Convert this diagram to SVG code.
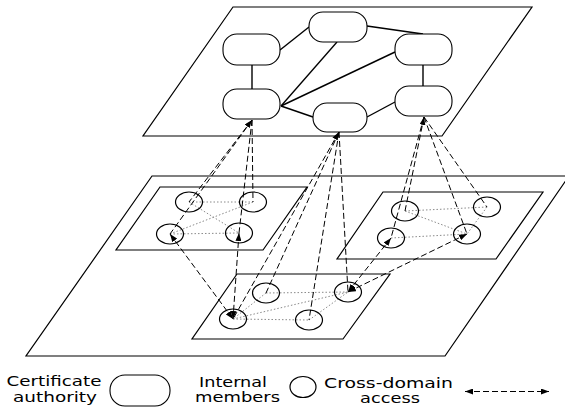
<svg xmlns="http://www.w3.org/2000/svg" width="565" height="407" viewBox="0 0 565 407">
<defs>
<marker id="ah" viewBox="0 0 8 6" refX="8" refY="3" markerWidth="8" markerHeight="6" markerUnits="userSpaceOnUse" orient="auto-start-reverse">
<path d="M0,0 L8,3 L0,6 z" fill="#000"/>
</marker>
</defs>
<style>
.plane{fill:none;stroke:#000;stroke-width:1.2}
.ca{fill:#fff;stroke:#000;stroke-width:1.1}
.mem{fill:none;stroke:#000;stroke-width:1.2}
.edge{stroke:#000;stroke-width:1.4;fill:none}
.dot{stroke:#8a8a8a;stroke-width:1;stroke-dasharray:1.5,2;fill:none}
.dash{stroke:#000;stroke-width:1;stroke-dasharray:6,3;fill:none}
.xd{stroke:#000;stroke-width:1;stroke-dasharray:6,3;fill:none;marker-start:url(#ah);marker-end:url(#ah)}
.up{marker-start:url(#ah)}
text{font-family:"DejaVu Sans","Liberation Sans",sans-serif;font-size:13.5px;fill:#000}
</style>

<g id="planes">
<polygon class="plane" points="233,7 532,7 442,136 143,136"/>
<polygon class="plane" points="152,176 569,176 445,356 26,356"/>
<polygon class="plane" points="160,187 307,187 263,250 116,250"/>
<polygon class="plane" points="237,274 390,274 343,339 192,339"/>
<polygon class="plane" points="383,192 543,192 496,259 337,259"/>
</g>

<g id="ca-edges">
<line class="edge" x1="280" y1="50" x2="309" y2="27"/>
<line class="edge" x1="367" y1="26" x2="423" y2="34"/>
<line class="edge" x1="252" y1="65" x2="252" y2="89"/>
<line class="edge" x1="423" y1="65" x2="423" y2="86"/>
<line class="edge" x1="281" y1="106" x2="337" y2="42"/>
<line class="edge" x1="281" y1="106" x2="395" y2="52"/>
<line class="edge" x1="281" y1="106" x2="313" y2="117"/>
<line class="edge" x1="367" y1="117" x2="395" y2="102"/>
</g>

<g id="ca-nodes">
<rect id="ca-tl" class="ca" x="223" y="34" width="57" height="31" rx="14" ry="14"/>
<rect id="ca-tc" class="ca" x="309" y="12" width="58" height="30" rx="14" ry="14"/>
<rect id="ca-tr" class="ca" x="395" y="34" width="57" height="31" rx="14" ry="14"/>
<rect id="ca-ml" class="ca" x="223" y="89" width="57" height="30" rx="14" ry="14"/>
<rect id="ca-mc" class="ca" x="313" y="103" width="54" height="29" rx="14" ry="14"/>
<rect id="ca-mr" class="ca" x="395" y="86" width="57" height="30" rx="14" ry="14"/>
</g>

<g id="internal-links">
<line class="dot" x1="189" y1="202" x2="253" y2="202"/>
<line class="dot" x1="170" y1="234" x2="239" y2="233"/>
<line class="dot" x1="189" y1="202" x2="239" y2="233"/>
<line class="dot" x1="253" y1="202" x2="170" y2="234"/>
<line class="dot" x1="266" y1="293" x2="348" y2="292"/>
<line class="dot" x1="233" y1="319" x2="309" y2="320"/>
<line class="dot" x1="266" y1="293" x2="233" y2="319"/>
<line class="dot" x1="309" y1="320" x2="348" y2="292"/>
<line class="dot" x1="233" y1="319" x2="348" y2="292"/>
<line class="dot" x1="405" y1="211" x2="487" y2="207"/>
<line class="dot" x1="391" y1="238" x2="467" y2="234"/>
<line class="dot" x1="405" y1="211" x2="467" y2="234"/>
<line class="dot" x1="487" y1="207" x2="467" y2="234"/>
</g>

<g id="members">
<ellipse id="m-l1" class="mem" cx="189" cy="202" rx="13.5" ry="10"/>
<ellipse id="m-l2" class="mem" cx="253" cy="202" rx="13.5" ry="10"/>
<ellipse id="m-l3" class="mem" cx="170" cy="234" rx="13.5" ry="10"/>
<ellipse id="m-l4" class="mem" cx="239" cy="233" rx="13.5" ry="10"/>
<ellipse id="m-b1" class="mem" cx="266" cy="293" rx="13.5" ry="10"/>
<ellipse id="m-b2" class="mem" cx="233" cy="319" rx="13.5" ry="10"/>
<ellipse id="m-b3" class="mem" cx="309" cy="320" rx="13.5" ry="10"/>
<ellipse id="m-b4" class="mem" cx="348" cy="292" rx="13.5" ry="10"/>
<ellipse id="m-r1" class="mem" cx="405" cy="211" rx="13.5" ry="10"/>
<ellipse id="m-r2" class="mem" cx="487" cy="207" rx="13.5" ry="10"/>
<ellipse id="m-r3" class="mem" cx="391" cy="238" rx="13.5" ry="10"/>
<ellipse id="m-r4" class="mem" cx="467" cy="234" rx="13.5" ry="10"/>
</g>

<g id="connectors">
<line class="dash up" x1="252" y1="120" x2="189" y2="202"/>
<line class="dash" x1="252" y1="120" x2="170" y2="234"/>
<line class="dash" x1="252" y1="120" x2="253" y2="202"/>
<line class="dash" x1="252" y1="120" x2="239" y2="233"/>
<line class="dash" x1="339" y1="132" x2="266" y2="293"/>
<line class="dash up" x1="339" y1="132" x2="233" y2="319"/>
<line class="dash" x1="339" y1="132" x2="309" y2="320"/>
<line class="dash" x1="339" y1="132" x2="348" y2="292"/>
<line class="dash up" x1="424" y1="117" x2="405" y2="211"/>
<line class="dash" x1="424" y1="117" x2="391" y2="238"/>
<line class="dash" x1="424" y1="117" x2="487" y2="207"/>
<line class="dash" x1="424" y1="117" x2="467" y2="234"/>
<line class="xd" x1="170" y1="234" x2="233" y2="319"/>
<line class="xd" x1="239" y1="233" x2="233" y2="319"/>
<line class="xd" x1="391" y1="238" x2="348" y2="292"/>
<line class="xd" x1="467" y1="234" x2="348" y2="292"/>
</g>

<g id="legend">
<text x="6.5" y="386" textLength="95" lengthAdjust="spacingAndGlyphs">Certificate</text>
<text x="13" y="401.5" textLength="84" lengthAdjust="spacingAndGlyphs">authority</text>
<rect class="ca" x="110" y="375" width="60" height="31" rx="15" ry="15"/>
<text x="199" y="386.5" textLength="68" lengthAdjust="spacingAndGlyphs">Internal</text>
<text x="195" y="402" textLength="85" lengthAdjust="spacingAndGlyphs">members</text>
<ellipse class="mem" cx="303" cy="387" rx="13" ry="10.5"/>
<text x="324" y="387.5" textLength="129" lengthAdjust="spacingAndGlyphs">Cross-domain</text>
<text x="360" y="402.5" textLength="60" lengthAdjust="spacingAndGlyphs">access</text>
<line class="xd" x1="465" y1="391.5" x2="549" y2="391.5"/>
</g>
</svg>
